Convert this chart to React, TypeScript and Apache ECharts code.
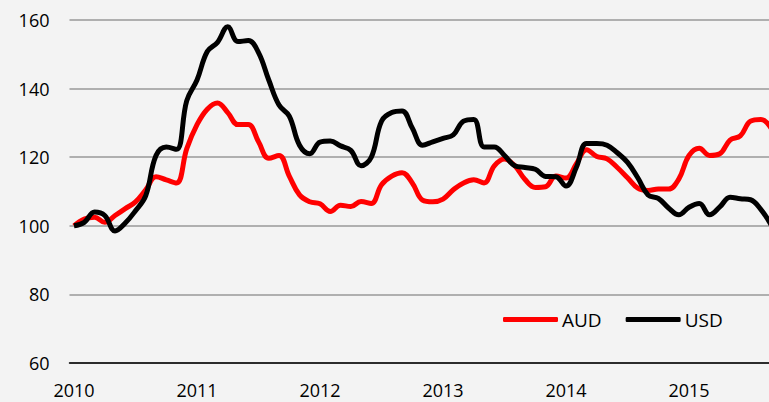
import React, { useEffect, useRef } from "react";
import * as echarts from "echarts";

// Monthly index from Jan 2010 (0) to Sep 2015 (68)
const yearLabels = ["2010", "2011", "2012", "2013", "2014", "2015"];
const yearTicks = [0, 12, 24, 36, 48, 60];
const yTicks = [60, 80, 100, 120, 140, 160];

const audValues = [
  100, 102, 102.5, 101, 103, 105, 107, 110.5, 114.3, 113.4, 112.5, 122.5,
  129.5, 134, 135.8, 133, 129.5, 129.5, 124.5, 119.7, 120.5, 114.5, 109, 107,
  106.4, 104.2, 106, 105.6, 107.1, 106.5, 112, 114.5, 115.5, 112.5, 107.5, 107,
  107.8, 110.5, 112.5, 113.4, 112.5, 117.5, 119.5, 117.5, 113.5, 111.2, 111.4, 114.5,
  113.9, 118, 122.2, 120.2, 119.5, 117, 114, 111, 110.3, 110.7, 110.7, 113.6,
  120.5, 122.6, 120.5, 121, 125, 126.2, 130.5, 131, 128.5,
];

const usdValues = [
  100, 101, 104, 103, 98.5, 100.8, 104.4, 108.8, 120.5, 123, 122.3, 136.5,
  142.5, 150.8, 153.5, 158, 153.7, 154, 150.5, 142.5, 135.2, 132, 123.5, 121,
  124.4, 124.7, 123.3, 122, 117.5, 120, 130.5, 133, 133.5, 128.5, 123.5, 124.5,
  125.5, 126.5, 130.5, 131, 123, 123, 120.5, 117.5, 117, 116.5, 114.4, 114.3,
  111.6, 117, 124, 124, 123.5, 121.3, 118.5, 114, 109, 108, 105.2, 103.2,
  105.4, 106.5, 103.2, 105.5, 108.3, 107.9, 107.6, 104.8, 100.3,
];

const toPairs = (vals: number[]) => vals.map((v, i) => [i, v]);

export default function App() {
  const ref = useRef<HTMLDivElement>(null);
  useEffect(() => {
    if (!ref.current) return;
    const chart = echarts.init(ref.current, undefined, { renderer: "svg" });
    const font = "'Open Sans', sans-serif";
    chart.setOption({
      animation: false,
      backgroundColor: "#f3f3f3",
      textStyle: { fontFamily: font },
      grid: { left: 69.5, right: 0, top: 20, bottom: 39, containLabel: false },
      legend: {
        left: 498,
        top: 305,
        itemWidth: 55,
        itemHeight: 5,
        itemGap: 24,
        icon: "roundRect",
        textStyle: { fontFamily: font, fontSize: 19, color: "#000", padding: [0, 0, 0, -1] },
        data: [
          { name: "AUD", icon: "roundRect" },
          { name: "USD", icon: "roundRect" },
        ],
      },
      xAxis: {
        type: "value",
        min: -0.44,
        max: 67.8,
        axisLine: { show: true, lineStyle: { color: "#000", width: 1.5 } },
        axisTick: { show: false },
        splitLine: { show: false },
        axisLabel: {
          customValues: yearTicks,
          formatter: (v: number) => yearLabels[yearTicks.indexOf(Math.round(v))] ?? "",
          fontFamily: font,
          fontSize: 18,
          color: "#000",
          margin: 18,
        },
      },
      yAxis: {
        type: "value",
        min: yTicks[0],
        max: yTicks[yTicks.length - 1],
        interval: 20,
        axisLine: { show: false },
        axisTick: { show: false },
        splitLine: { show: true, lineStyle: { color: "#999", width: 1.5 } },
        axisLabel: { fontFamily: font, fontSize: 18, color: "#000", margin: 20 },
      },
      series: [
        {
          name: "AUD",
          type: "line",
          data: toPairs(audValues),
          smooth: 0.4,
          symbol: "none",
          lineStyle: { color: "#ff0000", width: 5 },
          itemStyle: { color: "#ff0000" },
        },
        {
          name: "USD",
          type: "line",
          data: toPairs(usdValues),
          smooth: 0.4,
          symbol: "none",
          lineStyle: { color: "#000000", width: 5 },
          itemStyle: { color: "#000000" },
        },
      ],
    });
    return () => chart.dispose();
  }, []);
  return (
    <div
      ref={ref}
      style={{ position: "fixed", left: 0, top: 0, width: 769, height: 402 }}
    />
  );
}
